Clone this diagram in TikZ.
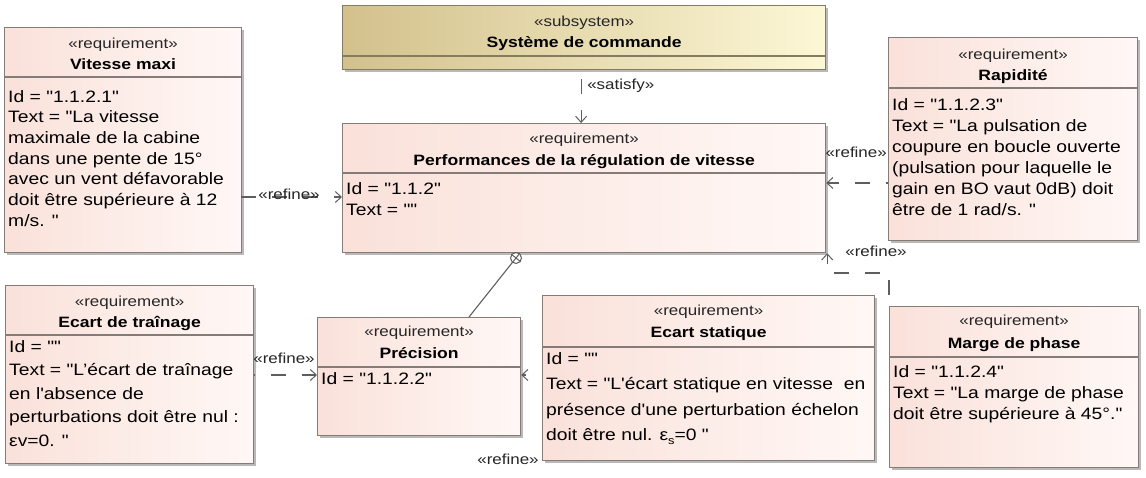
\documentclass[tikz,border=0pt]{standalone}
\usepackage{fontspec}
\setmainfont{Liberation Sans}[FakeStretch=1.17, Ligatures=TeXOff]
\usetikzlibrary{arrows.meta,shadows,calc}
\definecolor{reqA}{HTML}{FAE1DA}
\definecolor{reqB}{HTML}{FFF8F6}
\definecolor{reqline}{HTML}{857C77}
\definecolor{subA}{HTML}{D3C18C}
\definecolor{subB}{HTML}{FCF7D6}
\definecolor{subline}{HTML}{857B60}
\definecolor{conn}{HTML}{5E5E5E}
\tikzset{
  box/.style={draw=reqline, line width=1.2pt, rectangle, inner sep=0pt, anchor=north west,
    left color=reqA, right color=reqB,
    drop shadow={shadow xshift=2.5pt, shadow yshift=-2.5pt, fill=black!50, opacity=0.55}},
  subbox/.style={box, draw=subline, left color=subA, right color=subB},
  divline/.style={draw=reqline, line width=1.1pt},
  stereo/.style={anchor=base, inner sep=0pt, font=\fontsize{14.5}{15}\selectfont, text=black!85},
  ttl/.style={anchor=base, inner sep=0pt, font=\bfseries\fontsize{15}{16}\selectfont, text=black},
  body/.style={anchor=north west, inner sep=0pt, align=left, font=\fontsize{16.5}{21}\selectfont, text=black},
  dep/.style={draw=conn, line width=1.1pt, dash pattern=on 15pt off 16pt,
    -{Straight Barb[length=6pt,width=11pt,line width=1pt]}},
  lbl/.style={inner sep=0pt, font=\fontsize{14.5}{15}\selectfont, text=black!85},
}
\begin{document}
\begin{tikzpicture}[x=1pt,y=-1pt]
\fill[white] (0,0) rectangle (1146,477);
\useasboundingbox (0,0) rectangle (1146,477);

% ---------- Subsystem ----------
\node[subbox, minimum width=483pt, minimum height=64pt] (ss) at (342,5) {};
\draw[divline, draw=subline] ($(ss.north west)+(0,51)$) -- ($(ss.north east)+(0,51)$);
\node[stereo] (sss) at ($(ss.north)+(0,21)$) {«subsystem»};
\node[ttl] (sst) at ($(ss.north)+(0,42)$) {Système de commande};

% ---------- Performances ----------
\node[box, minimum width=483pt, minimum height=129pt] (pf) at (342,123) {};
\draw[divline] ($(pf.north west)+(0,50)$) -- ($(pf.north east)+(0,50)$);
\node[stereo] (pfs) at ($(pf.north)+(0,20)$) {«requirement»};
\node[ttl] (pft) at ($(pf.north)+(0,42)$) {Performances de la régulation de vitesse};
\node[body] (pfb) at ($(pf.north west)+(4,59)$) {Id = "1.1.2"\\Text = ""};

% ---------- Vitesse maxi ----------
\node[box, minimum width=237pt, minimum height=225pt] (vm) at (4,27) {};
\draw[divline] ($(vm.north west)+(0,50)$) -- ($(vm.north east)+(0,50)$);
\node[stereo] (vms) at ($(vm.north)+(0,21)$) {«requirement»};
\node[ttl] (vmt) at ($(vm.north)+(0,42)$) {Vitesse maxi};
\node[body, font=\fontsize{16.5}{20.7}\selectfont] (vmb) at ($(vm.north west)+(4,63)$) {Id = "1.1.2.1"\\Text = "La vitesse\\maximale de la cabine\\dans une pente de 15°\\avec un vent défavorable\\doit être supérieure à 12\\m/s. "};

% ---------- Rapidite ----------
\node[box, minimum width=249pt, minimum height=203pt] (rp) at (888,37) {};
\draw[divline] ($(rp.north west)+(0,51)$) -- ($(rp.north east)+(0,51)$);
\node[stereo] (rps) at ($(rp.north)+(0,22)$) {«requirement»};
\node[ttl] (rpt) at ($(rp.north)+(0,43)$) {Rapidité};
\node[body] (rpb) at ($(rp.north west)+(4,61)$) {Id = "1.1.2.3"\\Text = "La pulsation de\\coupure en boucle ouverte\\(pulsation pour laquelle le\\gain en BO vaut 0dB) doit\\être de 1 rad/s. "};

% ---------- Ecart de trainage ----------
\node[box, minimum width=248pt, minimum height=178pt] (et) at (5,285) {};
\draw[divline] ($(et.north west)+(0,50)$) -- ($(et.north east)+(0,50)$);
\node[stereo] (ets) at ($(et.north)+(0,21)$) {«requirement»};
\node[ttl] (ett) at ($(et.north)+(0,42)$) {Ecart de traînage};
\node[body, font=\fontsize{16.5}{23.5}\selectfont] (etb) at ($(et.north west)+(4,55)$) {Id = ""\\Text = "L’écart de traînage\\en l'absence de\\perturbations doit être nul :\\εv=0. "};

% ---------- Precision ----------
\node[box, minimum width=203pt, minimum height=118pt] (pr) at (317,317) {};
\draw[divline] ($(pr.north west)+(0,50)$) -- ($(pr.north east)+(0,50)$);
\node[stereo] (prs) at ($(pr.north)+(0,19)$) {«requirement»};
\node[ttl] (prt) at ($(pr.north)+(0,41)$) {Précision};
\node[body] (prb) at ($(pr.north west)+(4,55)$) {Id = "1.1.2.2"};

% ---------- Ecart statique ----------
\node[box, minimum width=332pt, minimum height=165pt] (es) at (542,295) {};
\draw[divline] ($(es.north west)+(0,52)$) -- ($(es.north east)+(0,52)$);
\node[stereo] (ess) at ($(es.north)+(0,20)$) {«requirement»};
\node[ttl] (est) at ($(es.north)+(0,42)$) {Ecart statique};
\node[body, font=\fontsize{16.5}{25.5}\selectfont] (esb) at ($(es.north west)+(4,57)$) {Id = ""\\Text = "L'écart statique en vitesse\ \ en\\présence d'une perturbation échelon\\doit être nul. ε\raisebox{-4pt}{\fontsize{11}{11}\selectfont s}=0 "};

% ---------- Marge de phase ----------
\node[box, minimum width=249pt, minimum height=161pt] (mp) at (889,306) {};
\draw[divline] ($(mp.north west)+(0,51)$) -- ($(mp.north east)+(0,51)$);
\node[stereo] (mps) at ($(mp.north)+(0,19)$) {«requirement»};
\node[ttl] (mpt) at ($(mp.north)+(0,42)$) {Marge de phase};
\node[body] (mpb) at ($(mp.north west)+(4,59)$) {Id = "1.1.2.4"\\Text = "La marge de phase\\doit être supérieure à 45°."};

% ---------- Connectors ----------
% satisfy
\draw[dep, dash phase=22pt] ($(ss.south)+(-3,0)$) -- ($(pf.north)+(-3,0)$);
\node[lbl, anchor=west] (l1) at ($(ss.south)+(3,16)$) {«satisfy»};

% Vitesse maxi -> Performances
\draw[dep] ($(vm.north west)+(237,170)$) -- ($(pf.north west)+(0,74)$);
\node[lbl] (l2) at (289,194) {«refine»};

% Rapidite -> Performances
\draw[dep, dash phase=13pt] ($(rp.north west)+(0,146)$) -- ($(pf.north east)+(0,60)$);
\node[lbl, anchor=east] (l3) at ($(rp.north west)+(-1,115)$) {«refine»};

% Marge de phase -> Performances
\draw[dep, dash phase=20pt] (mp.north west) -- ++(0,-33) -| ($(pf.south east)+(1,0)$);
\node[lbl] (l4) at (876,251) {«refine»};

% Ecart de trainage -> Precision
\draw[dep, dash phase=14pt] ($(et.north east)+(0,90)$) -- ($(pr.north west)+(0,58)$);
\node[lbl] (l5) at (284,358) {«refine»};

% Ecart statique -> Precision
\draw[dep, dash phase=15pt] ($(es.north west)+(0,80)$) -- ($(pr.north east)+(0,58)$);
\node[lbl] (l6) at (508,459) {«refine»};

% containment Precision -> Performances
\node[circle, draw=conn, line width=1pt, minimum size=11pt, inner sep=0pt, fill=white] (cpn) at (516,258) {};
\draw[draw=conn, line width=1pt] (cpn.51.5) -- (cpn.231.5);
\draw[draw=conn, line width=1pt] (cpn.141.5) -- (cpn.321.5);
\draw[draw=conn, line width=1.1pt] ($(pr.north west)+(152,0)$) -- (cpn.231.5);
\end{tikzpicture}
\end{document}
